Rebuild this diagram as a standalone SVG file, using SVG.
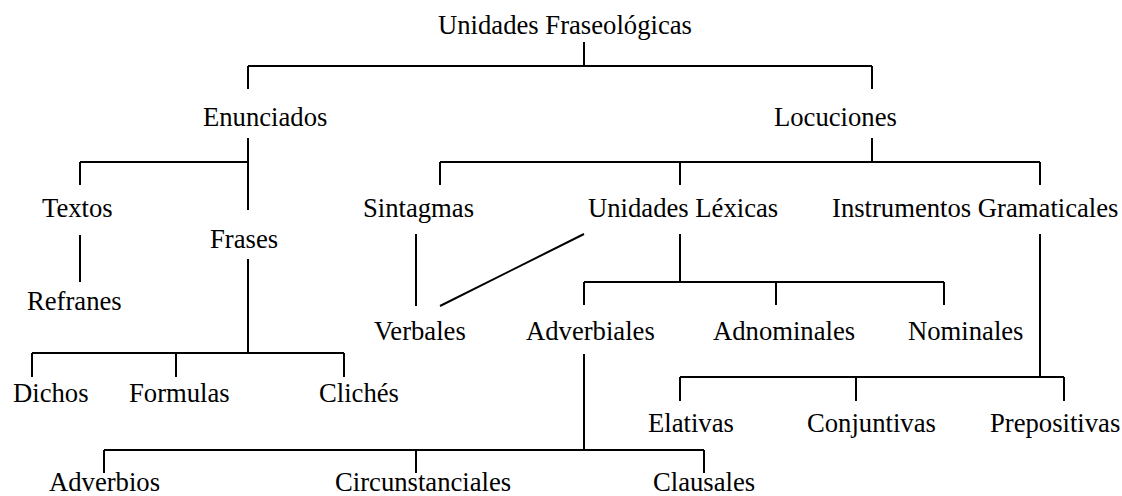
<svg xmlns="http://www.w3.org/2000/svg" width="1122" height="496" viewBox="0 0 1122 496">
  <style>
    text { font-family: "Liberation Serif", "Times New Roman", serif; font-size: 26.67px; fill: #000; }
    .c { fill: none; stroke: #000; stroke-width: 2; stroke-linecap: butt; }
  </style>
  <rect width="1122" height="496" fill="#fff"/>
  <g id="connectors" class="c">
    <path d="M584,42 V66 M248,66 H872 M248,66 V89 M872,66 V89"/>
    <path d="M248,138 V210 M80,162 H248 M80,162 V185"/>
    <path d="M872,138 V162 M440,162 H1040 M440,162 V185 M680,162 V185 M1040,162 V185"/>
    <path d="M80,235 V282"/>
    <path d="M416,234 V306"/>
    <path d="M584,234 L440,306"/>
    <path d="M680,234 V282 M584,282 H944 M584,282 V305 M776,282 V305 M944,282 V305"/>
    <path d="M1040,234 V377 M680,377 H1064 M680,377 V401 M856,377 V401 M1064,377 V401"/>
    <path d="M248,259 V353 M32,353 H344 M32,353 V377 M176,353 V377 M344,353 V377"/>
    <path d="M584,354 V450 M104,450 H704 M104,450 V473 M416,450 V473 M704,450 V473"/>
  </g>
  <g id="n-unidades-fraseologicas"><text x="438" y="34">Unidades Fraseológicas</text></g>
  <g id="n-enunciados"><text x="203" y="126">Enunciados</text></g>
  <g id="n-locuciones"><text x="774" y="126">Locuciones</text></g>
  <g id="n-textos"><text x="42" y="217">Textos</text></g>
  <g id="n-frases"><text x="210" y="248">Frases</text></g>
  <g id="n-refranes"><text x="27" y="310">Refranes</text></g>
  <g id="n-dichos"><text x="13" y="402">Dichos</text></g>
  <g id="n-formulas"><text x="129" y="402">Formulas</text></g>
  <g id="n-cliches"><text x="319" y="402">Clichés</text></g>
  <g id="n-sintagmas"><text x="363" y="217">Sintagmas</text></g>
  <g id="n-unidades-lexicas"><text x="588" y="217">Unidades Léxicas</text></g>
  <g id="n-instrumentos"><text x="832" y="217">Instrumentos Gramaticales</text></g>
  <g id="n-verbales"><text x="374" y="340">Verbales</text></g>
  <g id="n-adverbiales"><text x="526" y="340">Adverbiales</text></g>
  <g id="n-adnominales"><text x="713" y="340">Adnominales</text></g>
  <g id="n-nominales"><text x="908" y="340">Nominales</text></g>
  <g id="n-elativas"><text x="648" y="432">Elativas</text></g>
  <g id="n-conjuntivas"><text x="807" y="432">Conjuntivas</text></g>
  <g id="n-prepositivas"><text x="990" y="432">Prepositivas</text></g>
  <g id="n-adverbios"><text x="49" y="491">Adverbios</text></g>
  <g id="n-circunstanciales"><text x="335" y="491">Circunstanciales</text></g>
  <g id="n-clausales"><text x="653" y="491">Clausales</text></g>
</svg>
